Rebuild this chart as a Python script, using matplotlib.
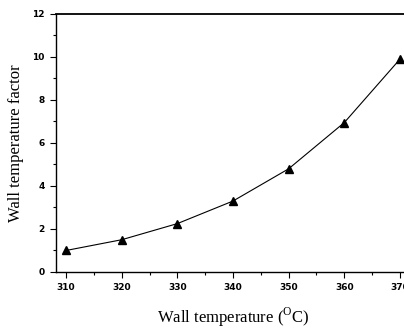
import matplotlib
matplotlib.use("Agg")
import matplotlib.pyplot as plt
from matplotlib.ticker import MultipleLocator

temps = [310, 320, 330, 340, 350, 360, 370]
factor = [1.0, 1.5, 2.25, 3.3, 4.8, 6.95, 9.9]

plt.rcParams['mathtext.fontset'] = 'custom'
plt.rcParams['mathtext.rm'] = 'Liberation Serif'

fig = plt.figure(figsize=(4.04, 3.30), dpi=100)
ax = fig.add_axes([0.1386, 0.1758, 0.879, 0.7818])
ax.plot(temps, factor, color='black', lw=0.8, marker='^', ms=5.5,
        markerfacecolor='black', markeredgecolor='black')
ax.set_xlim(308.2, 372)
ax.set_ylim(0, 12)
ax.xaxis.set_major_locator(MultipleLocator(10))
ax.xaxis.set_minor_locator(MultipleLocator(5))
ax.yaxis.set_major_locator(MultipleLocator(2))
ax.yaxis.set_minor_locator(MultipleLocator(1))
ax.tick_params(which='both', direction='out', width=0.8)
ax.tick_params(which='major', length=4, labelsize=7, pad=4)
ax.tick_params(which='minor', length=2.5)
for lab in ax.get_xticklabels() + ax.get_yticklabels():
    lab.set_fontfamily('DejaVu Sans')
    lab.set_fontsize(6.5)
    lab.set_fontweight('bold')
ax.tick_params(top=False, right=False)
for s in ['left', 'bottom']:
    ax.spines[s].set_linewidth(1.0)
ax.spines['top'].set_linewidth(1.3)
ax.set_xlabel(r'Wall temperature ($^{\mathrm{O}}$C)', fontfamily='Liberation Serif',
              fontsize=12, labelpad=10)
ax.set_ylabel('Wall temperature factor', fontfamily='Liberation Serif',
              fontsize=12, labelpad=6)
fig.savefig('out.png', dpi=100)
